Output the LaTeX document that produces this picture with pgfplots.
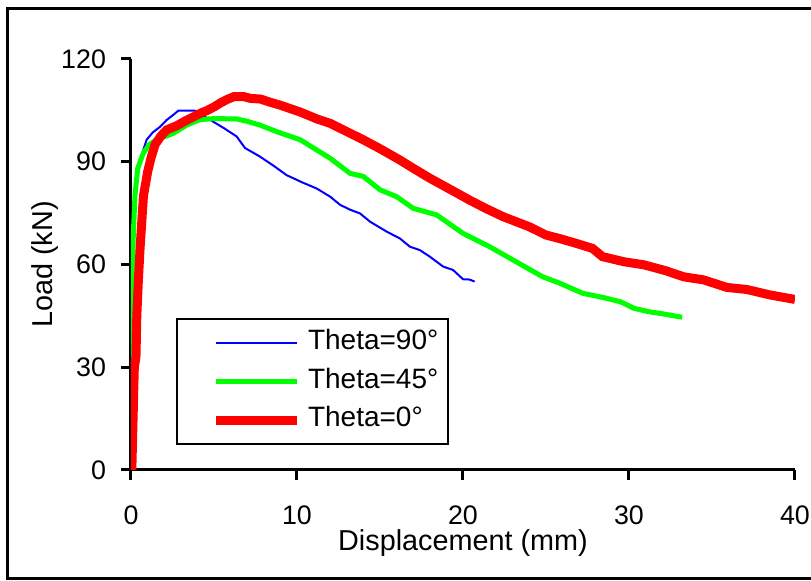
\documentclass[border=0pt]{standalone}
\usepackage{fontspec}
\setmainfont{Liberation Sans}
\usepackage{pgfplots}
\pgfplotsset{compat=1.18}

\begin{document}
\begin{tikzpicture}
\useasboundingbox (-65.5pt,-55.5pt) rectangle (340pt,235pt);
\draw[line width=1.5pt] (-61.5pt,-54.5pt) rectangle (343pt,230.5pt);
\begin{axis}[
  at={(0,0)}, anchor=south west,
  scale only axis, width=332pt, height=205.5pt,
  xmin=0, xmax=40, ymin=0, ymax=120,
  axis lines=left, axis line style={-, line width=1.5pt},
  xtick={0,10,20,30,40}, ytick={0,30,60,90,120},
  tick align=outside, major tick length=5pt,
  tick style={line width=1.5pt, black},
  /pgf/number format/assume math mode=true,
  tick label style={font=\fontsize{13.4}{16}\selectfont},
  xticklabel style={anchor=center, yshift=-17.5pt},
  yticklabel style={anchor=east, xshift=-4pt},
  xlabel={Displacement (mm)}, ylabel={Load (kN)},
  label style={font=\fontsize{14.4}{17}\selectfont},
  xlabel style={at={(rel axis cs:0.5,0)}, anchor=center, yshift=-36.5pt},
  ylabel style={at={(rel axis cs:0,0.5)}, anchor=center, yshift=43pt},
  legend style={at={(0.0678,0.370)}, anchor=north west, draw=black, line width=1pt,
    font=\fontsize{14}{16}\selectfont, inner xsep=17pt, inner ysep=5.3pt,
    row sep=5.8pt, column sep=3.5pt,
    nodes={inner sep=0pt, text width=53pt, text height=10pt, text depth=3.5pt, align=left}},
  legend cell align=left,
  legend image code/.code={\draw[#1] (0pt,0pt) -- (40.5pt,0pt);},
]
\addplot[blue, line width=1pt] coordinates {
(0,0) (0.03,30) (0.06,50) (0.1,62) (0.2,75) (0.4,86) (0.6,91) (0.74,93.4) (0.94,96.4)
(1.3,98.5) (1.75,100.2) (2.15,102.2) (2.5,103.5) (2.85,104.9) (3.4,104.9) (3.86,104.9)
(4.4,103.3) (4.95,101.7) (5.6,99.8) (6.36,97.4) (6.87,94) (7.77,91.5) (8.6,88.8)
(9.37,86.1) (10.3,84) (11.18,82.2) (12.0,79.8) (12.6,77.4) (13.2,76) (13.8,74.9)
(14.4,72.5) (15.4,69.6) (16.2,67.6) (16.8,65.2) (17.4,64.2) (18.0,62.3) (18.8,59.4)
(19.4,58.4) (20.0,55.7) (20.4,55.6) (20.7,55)
};
\addlegendentry{Theta=90°}
\addplot[green, line width=2.5pt] coordinates {
(0,0) (0.02,30) (0.05,55) (0.15,70) (0.24,80) (0.4,88) (0.74,92.5) (1.1,95)
(1.54,96.4) (2.55,98.3) (3.35,100.7) (4.16,102.3) (5,102.6) (6.36,102.5) (7.0,101.8)
(7.77,100.7) (8.77,98.8) (10.2,96.4) (11.0,94) (12.0,91) (13.2,86.6) (14.0,85.7)
(15.0,81.8) (16.0,79.8) (17.0,76.4) (18.4,74.5) (20.0,69.1) (21.6,65.2) (23.2,60.8)
(24.8,56.4) (25.8,54.6) (27.2,51.6) (28.5,50.3) (29.5,49.1) (30.3,47.2) (31.2,46.2)
(31.9,45.7) (33.2,44.6)
};
\addlegendentry{Theta=45°}
\addplot[red, line width=4.5pt] coordinates {
(0.05,0) (0.1,10) (0.2,30) (0.3,33) (0.35,45) (0.45,56) (0.55,65) (0.75,80)
(1.0,87) (1.2,91) (1.45,95) (1.8,97.5) (2.15,99.3) (2.75,100.5) (3.3,102) (3.8,103.2)
(4.2,104.2) (4.6,105) (5.0,106) (5.4,107.2) (5.8,108.2) (6.2,109) (6.8,109) (7.2,108.5)
(7.8,108.3) (8.3,107.5) (9,106.5) (10.2,104.5) (11.2,102.5) (12.0,101.2) (13.0,98.8)
(14.0,96.4) (15.0,93.8) (16.2,90.5) (17.0,88.1) (18.0,85.2) (19.2,82) (20.4,78.8)
(21.4,76.3) (22.4,74) (24.0,71) (25.0,68.6) (25.8,67.6) (26.8,66.2) (27.8,64.7)
(28.4,62.3) (29.7,60.8) (30.9,59.9) (32.2,58.2) (33.3,56.4) (34.5,55.5) (35.9,53.3)
(37.1,52.7) (38.5,51.1) (40,49.8)
};
\addlegendentry{Theta=0°}
\end{axis}
\end{tikzpicture}
\end{document}
